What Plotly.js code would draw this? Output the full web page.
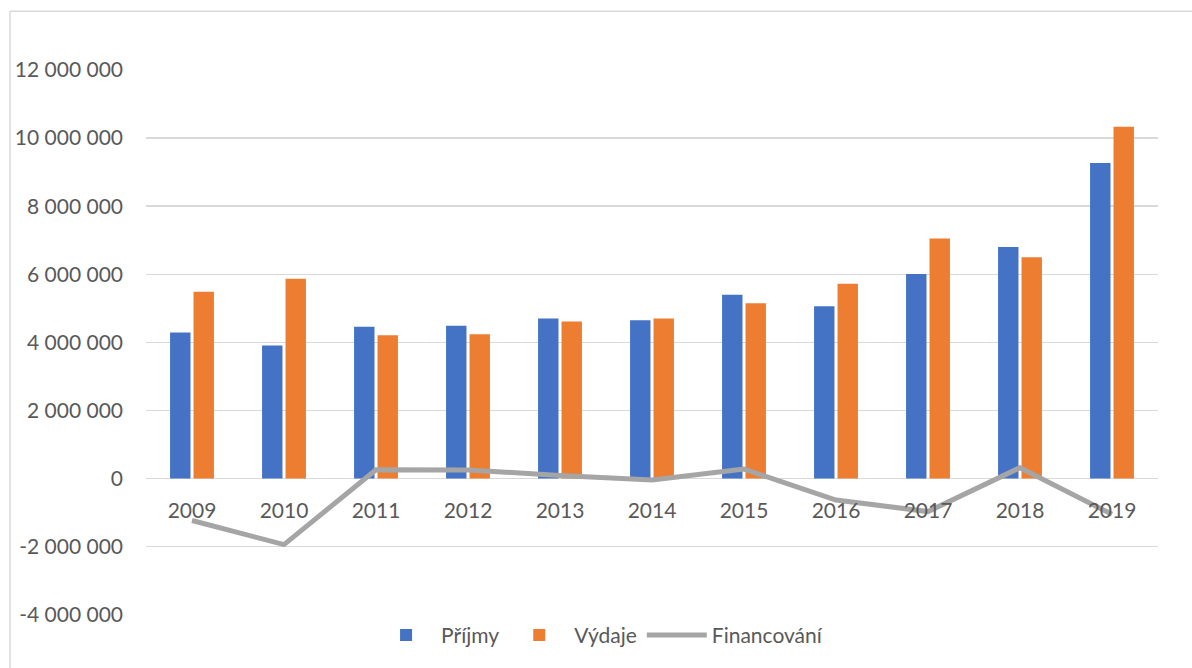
<!DOCTYPE html>
<html>
<head>
<meta charset="utf-8">
<script src="https://cdn.plot.ly/plotly-3.0.1.min.js"></script>
<style>
html,body{margin:0;padding:0;background:#fff;}
#chart{width:1192px;height:668px;}
</style>
</head>
<body>
<div id="chart"></div>
<script>
const years = ["2009","2010","2011","2012","2013","2014","2015","2016","2017","2018","2019"];
const prijmy = [4290000,3910000,4460000,4490000,4700000,4650000,5400000,5060000,6010000,6800000,9270000];
const vydaje = [5490000,5870000,4210000,4240000,4610000,4700000,5150000,5720000,7050000,6500000,10330000];
const financovani = [-1230000,-1940000,260000,255000,90000,-40000,280000,-630000,-970000,320000,-1050000];
const yTickVals = [-4000000,-2000000,0,2000000,4000000,6000000,8000000,10000000,12000000];
const yTickText = ["-4 000 000","-2 000 000","0","2 000 000","4 000 000","6 000 000","8 000 000","10 000 000","12 000 000"];
const seriesNames = ["Příjmy","Výdaje","Financování"];

const FONT = "Lato, 'Open Sans', sans-serif";
const TXT = "#595959";
const GRID = "#d9d9d9";

const traces = [
  {type:"bar", name:seriesNames[0], x:years, y:prijmy, marker:{color:"#4472C4"}},
  {type:"bar", name:seriesNames[1], x:years, y:vydaje, marker:{color:"#ED7D31"}},
  {type:"scatter", mode:"lines", name:seriesNames[2], x:years, y:financovani,
   line:{color:"#A5A5A5", width:5, shape:"linear"}}
];

const layout = {
  width:1192, height:668,
  margin:{l:146, r:34, t:70, b:52},
  paper_bgcolor:"#fff", plot_bgcolor:"#fff",
  font:{family:FONT, size:21, color:TXT},
  barmode:"group", bargap:0.49, bargroupgap:0.13,
  showlegend:true,
  legend:{orientation:"h", xref:"container", yref:"container", x:0.503, xanchor:"center",
          y:0.049, yanchor:"middle", font:{family:FONT, size:21, color:TXT},
          traceorder:"normal", itemwidth:60},
  xaxis:{type:"category", anchor:"free", position:0.25, showgrid:false, showline:false,
         zeroline:false, ticks:"", ticklabelstandoff:17, tickfont:{family:FONT,size:21,color:TXT}},
  yaxis:{range:[-4000000,12000000], tickvals:yTickVals, ticktext:yTickText,
         showgrid:true, gridcolor:GRID, gridwidth:1.5, zeroline:true, zerolinecolor:GRID,
         zerolinewidth:1.5, showline:false, ticks:"", ticklabelstandoff:22,
         tickfont:{family:FONT,size:21,color:TXT}},
  shapes:[
    {type:"line", xref:"paper", yref:"paper", x0:-0.1344, x1:-0.1344, y0:-0.2, y1:1.108,
     line:{color:GRID, width:1.5}, layer:"above"},
    {type:"line", xref:"paper", yref:"paper", x0:-0.1344, x1:1.04, y0:1.108, y1:1.108,
     line:{color:GRID, width:1.5}, layer:"above"}
  ],
  hovermode:false
};

Plotly.newPlot("chart", traces, layout, {displayModeBar:false, staticPlot:true});
</script>
</body>
</html>
